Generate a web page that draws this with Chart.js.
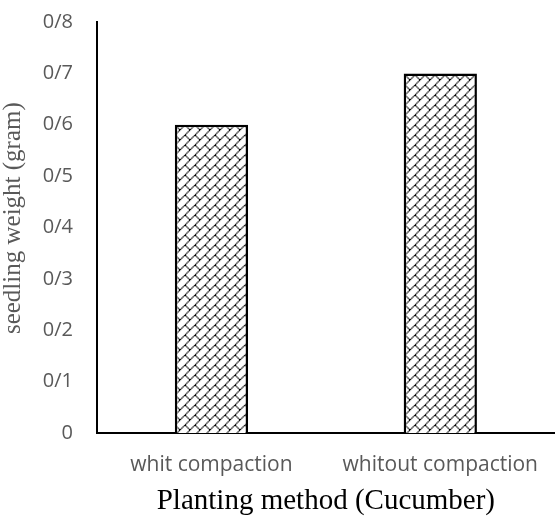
<!DOCTYPE html>
<html lang="en">
  <head>
    <meta charset="utf-8" />
    <script src="https://cdn.jsdelivr.net/npm/chart.js@4.4.0/dist/chart.umd.min.js"></script>
    <title>seedling weight</title>
    <style>
      html, body { margin: 0; padding: 0; background: #fff; }
      .chartContainer { width: 557px; height: 517px; }
    </style>
  </head>
  <body>
    <div class='chartContainer'>
      <canvas id='myChart' width='557' height='517'></canvas>
    </div>

    <script>
      const categories = ['whit compaction', 'whitout compaction'];
      const weights = [0.6, 0.7];
      const yTickLabels = ['0', '0/1', '0/2', '0/3', '0/4', '0/5', '0/6', '0/7', '0/8'];

      // diagonal brick hatch, 8x8 tile (scaled up a bit when used)
      const brick = [
        '00000001',
        '00000010',
        '00000100',
        '00001000',
        '00011000',
        '00100100',
        '01000010',
        '10000001'
      ];
      function makePattern() {
        const c = document.createElement('canvas');
        c.width = 8; c.height = 8;
        const g = c.getContext('2d');
        g.fillStyle = '#fff';
        g.fillRect(0, 0, 8, 8);
        g.fillStyle = '#000';
        brick.forEach((row, y) => {
          for (let x = 0; x < 8; x++) {
            if (row[x] === '1') g.fillRect(x, y, 1, 1);
          }
        });
        const p = g.createPattern(c, 'repeat');
        p.setTransform(new DOMMatrix().scale(1.25));
        return p;
      }

      const ctx = document.getElementById('myChart').getContext('2d');
      const gray = '#595959';

      new Chart(ctx, {
        type: 'bar',
        data: {
          labels: categories,
          datasets: [{
            data: weights,
            backgroundColor: makePattern(),
            borderColor: '#000',
            borderWidth: 2.5,
            categoryPercentage: 1,
            barPercentage: 0.32
          }]
        },
        options: {
          responsive: false,
          animation: false,
          layout: { padding: { top: 22, right: 0, left: 0, bottom: 0 } },
          plugins: { legend: { display: false }, tooltip: { enabled: false } },
          scales: {
            x: {
              grid: { display: false, drawTicks: false },
              border: { color: '#000', width: 2 },
              ticks: { color: gray, padding: 19, font: { family: 'Open Sans', size: 21 } },
              title: {
                display: true,
                text: 'Planting method (Cucumber)',
                color: '#000',
                font: { family: 'Liberation Serif', size: 29 },
                padding: { top: 0, bottom: -2 }
              },
              afterFit: s => { s.height = 84; }
            },
            y: {
              min: 0,
              max: 0.8,
              grid: { display: false, drawTicks: false },
              border: { color: '#000', width: 2 },
              ticks: {
                stepSize: 0.1,
                color: gray,
                padding: 24,
                font: { family: 'Open Sans', size: 20 },
                callback: (v, i) => yTickLabels[i]
              },
              title: {
                display: true,
                text: '   seedling weight (gram)',
                color: gray,
                font: { family: 'Liberation Serif', size: 25 },
                padding: { top: -2, bottom: 0 }
              },
              afterFit: s => {
                s.width = 97;
                s.paddingTop = 0;
                s.paddingBottom = 0;
              }
            }
          }
        }
      });
    </script>
  </body>
</html>
